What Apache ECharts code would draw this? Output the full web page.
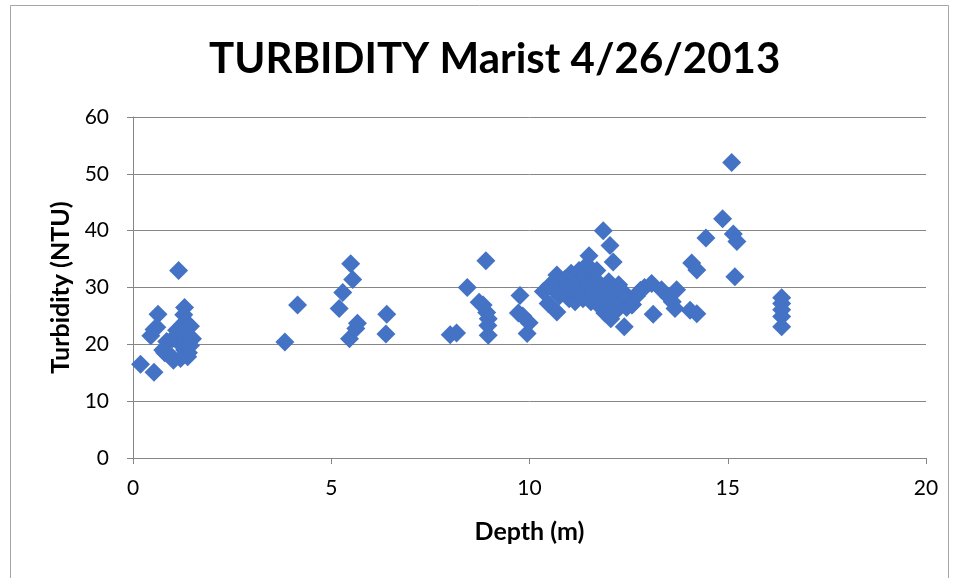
<!DOCTYPE html>
<html>
<head>
<meta charset="utf-8">
<script src="https://cdn.jsdelivr.net/npm/echarts@6/dist/echarts.min.js"></script>
<style>html,body{margin:0;padding:0;background:#fff}#c{width:959px;height:578px}</style>
</head>
<body>
<div id="c"></div>
<script>
const titleText = 'TURBIDITY Marist 4/26/2013';
const xAxisName = 'Depth (m)';
const yAxisName = 'Turbidity (NTU)';
const xTicks = [0, 5, 10, 15, 20];
const yTicks = [0, 10, 20, 30, 40, 50, 60];

const depthShallow = [0.19,0.53,0.45,0.53,0.63,0.6,0.75,0.85,0.8,0.95,1.02,1.0,1.1,1.15,1.2,1.25,1.3,1.28,1.32,1.35,1.3,1.33,1.3,1.38,1.4,1.45,1.5,1.45,1.2];
const turbShallow  = [16.5,15.1,21.5,22.6,25.3,23.0,19.0,20.5,18.5,18.0,17.2,21.0,22.5,33.0,20.0,23.5,26.5,25.2,24.0,22.8,21.5,20.2,19.0,17.8,18.5,23.2,21.0,19.8,17.5];

const depthMid = [3.83,4.15,5.2,5.29,5.49,5.54,5.46,5.62,5.66,6.38,6.4,8.0,8.16,8.43,8.73,8.83,8.9,8.92,8.96,8.95,8.96];
const turbMid  = [20.4,26.9,26.3,29.1,34.2,31.4,21.0,22.8,23.7,21.8,25.3,21.7,22.0,30.0,27.4,26.9,34.7,25.6,24.5,23.3,21.6];

const depthCluster = [9.72,9.76,9.83,9.94,9.99,10.35,10.47,10.69,10.69,10.8,10.9,10.95,11.0,11.05,11.1,11.15,11.2,11.25,11.3,11.35,11.4,11.45,11.5,11.5,11.55,11.6,11.65,11.7,11.75,11.8,11.85,11.9,11.95,12.0,12.0,12.05,12.1,12.15,12.2,12.25,12.3,12.4,12.45,12.5,12.6,12.7,12.8,12.9,10.75,10.6,10.5,11.86,12.03,12.11,12.39,12.58];
const turbCluster  = [25.5,28.6,25.0,21.9,23.8,29.3,27.2,25.7,32.2,30.5,31.5,29.0,28.0,32.5,30.0,27.5,31.0,33.0,29.0,28.0,32.0,34.0,35.6,30.5,27.5,29.0,31.5,33.0,28.0,26.5,30.0,25.5,28.5,27.0,31.0,24.5,29.5,28.0,26.0,30.5,27.5,29.0,26.5,28.0,27.0,28.5,29.5,30.0,28.5,29.8,30.3,40.0,37.4,34.5,23.1,26.9];

const depthDeep = [13.08,13.12,13.33,13.5,13.67,13.71,13.6,14.05,14.22,14.09,14.22,14.45,14.87,15.1,15.14,15.23,15.18,16.36,16.36,16.36,16.36,16.36];
const turbDeep  = [30.7,25.3,29.6,28.4,26.3,29.6,27.5,26.0,25.4,34.3,33.1,38.7,42.1,52.0,39.4,38.1,31.9,28.2,27.2,26.1,24.9,23.1];

function pairs(xs, ys) { return xs.map((x, i) => [x, ys[i]]); }
const points = [].concat(
  pairs(depthShallow, turbShallow),
  pairs(depthMid, turbMid),
  pairs(depthCluster, turbCluster),
  pairs(depthDeep, turbDeep)
);

const font = 'Lato, "Open Sans", sans-serif';
const chart = echarts.init(document.getElementById('c'), null, {renderer: 'canvas'});
chart.setOption({
  animation: false,
  backgroundColor: '#fff',
  graphic: [{
    type: 'rect', silent: true, z: -10,
    shape: {x: 10.5, y: 5.5, width: 938, height: 600},
    style: {fill: 'none', stroke: '#a6a6a6', lineWidth: 1}
  }],
  title: {
    text: titleText, left: 204, top: 33,
    textStyle: {fontFamily: font, fontSize: 42, fontWeight: 'bold', color: '#000'}
  },
  grid: {left: 133, right: 33, top: 117, bottom: 120, containLabel: false},
  xAxis: {
    type: 'value', min: xTicks[0], max: xTicks[xTicks.length - 1], interval: 5,
    name: xAxisName, nameLocation: 'middle', nameGap: 61,
    nameTextStyle: {fontFamily: font, fontSize: 25, fontWeight: 'bold', color: '#000'},
    axisLine: {show: true, lineStyle: {color: '#868686', width: 1}},
    axisTick: {show: true, length: 6, inside: false, lineStyle: {color: '#868686'}},
    axisLabel: {margin: 20, fontFamily: font, fontSize: 21, color: '#000'},
    splitLine: {show: false}
  },
  yAxis: {
    type: 'value', min: yTicks[0], max: yTicks[yTicks.length - 1], interval: 10,
    name: yAxisName, nameLocation: 'middle', nameGap: 59, nameRotate: 90,
    nameTextStyle: {fontFamily: font, fontSize: 25, fontWeight: 'bold', color: '#000'},
    axisLine: {show: true, lineStyle: {color: '#868686', width: 1}},
    axisTick: {show: true, length: 6, inside: false, lineStyle: {color: '#868686'}},
    axisLabel: {margin: 24, fontFamily: font, fontSize: 21, color: '#000'},
    splitLine: {show: true, lineStyle: {color: '#868686', width: 1}}
  },
  series: [{
    type: 'scatter', data: points, symbol: 'diamond', symbolSize: 19,
    itemStyle: {color: '#4472C4', opacity: 1}
  }]
});
</script>
</body>
</html>
